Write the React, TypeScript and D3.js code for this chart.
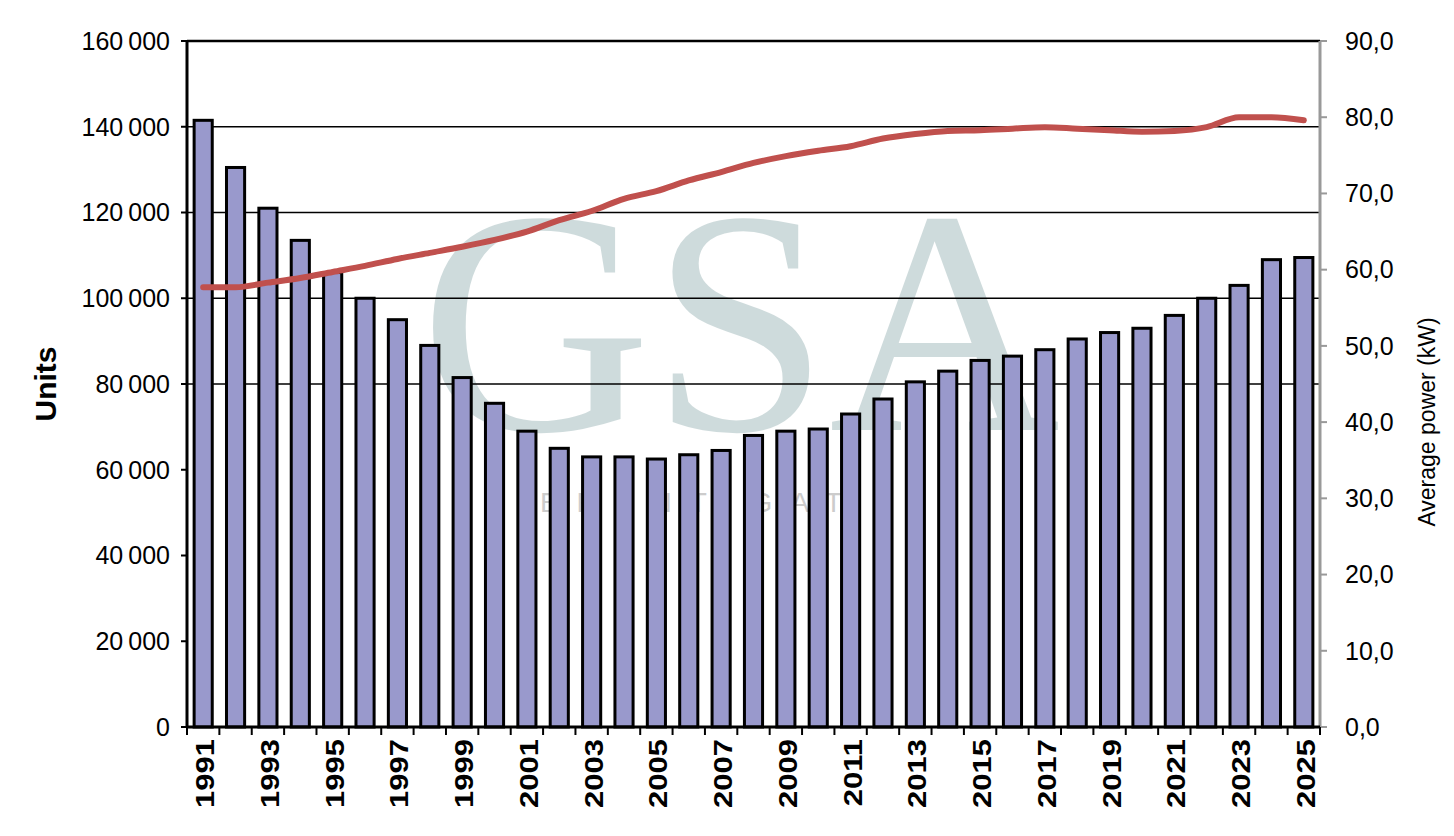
import * as d3 from 'd3'
import React from 'react'

const years = d3.range(1991, 2026).map(String)
const units = [141500, 130500, 121000, 113500, 106000, 100000, 95000, 89000, 81500, 75500,
  69000, 65000, 63000, 63000, 62500, 63500, 64500, 68000, 69000, 69500,
  73000, 76500, 80500, 83000, 85500, 86500, 88000, 90500, 92000, 93000,
  96000, 100000, 103000, 109000, 109500]
const power = [57.7, 57.7, 58.3, 58.9, 59.7, 60.5, 61.4, 62.2, 63.0, 63.9,
  65.0, 66.5, 67.7, 69.3, 70.3, 71.7, 72.8, 74.0, 74.9, 75.6,
  76.2, 77.2, 77.8, 78.2, 78.3, 78.5, 78.7, 78.5, 78.3, 78.1,
  78.2, 78.7, 80.0, 80.0, 79.6]
const leftTicks = d3.range(0, 160001, 20000)
const rightTicks = d3.range(0, 91, 10)
const gridTicks = [80000, 100000, 120000, 140000, 160000]

const W = 1454, H = 836
const L = 187, R = 1320, T = 41, B = 727

const App = () => {
  const x = d3.scaleBand().domain(years).range([L, R]).paddingInner(0.44).paddingOuter(0.22)
  const y = d3.scaleLinear().domain([0, 160000]).range([B, T])
  const y2 = d3.scaleLinear().domain([0, 90]).range([B, T])
  const fmt = (v: number) => d3.format(',')(v).replace(/,/g, '\u2009')
  const line = d3.line<number>()
    .x((_, i) => x(years[i])! + x.bandwidth() / 2)
    .y(d => y2(d))
    .curve(d3.curveMonotoneX)
  const step = x.step()
  const font = 'Liberation Sans, Arial, sans-serif'

  return (
    <svg width={W} height={H} style={{ position: 'absolute', left: 0, top: 0, fontFamily: font }}>
      {/* watermark */}
      <text x={740} y={430} textAnchor="middle" fontFamily="Liberation Serif, serif" fontSize={320}
        fill="#9fb8ba" opacity={0.5}>GSA</text>
      <text x={700} y={512} textAnchor="middle" fontSize={28} fill="#ccc" letterSpacing={18}>ERANTIGAT</text>
      {gridTicks.map(t => (
        <line key={t} x1={L} x2={R} y1={y(t)} y2={y(t)} stroke="#000" strokeWidth={t === 160000 ? 2.5 : 1.3} />
      ))}
      {units.map((v, i) => (
        <rect key={years[i]} x={x(years[i])} y={y(v)} width={x.bandwidth()} height={B - y(v)}
          fill="#9999cc" stroke="#000" strokeWidth={3} />
      ))}
      <path d={line(power)!} fill="none" stroke="#c0504d" strokeWidth={6} strokeLinecap="round" />
      {/* left axis */}
      <line x1={L} x2={L} y1={T} y2={B} stroke="#000" strokeWidth={3} />
      {leftTicks.map(t => (
        <g key={t}>
          <line x1={L - 6} x2={L} y1={y(t)} y2={y(t)} stroke="#000" strokeWidth={2} />
          <text x={L - 17} y={y(t)} dy="0.35em" textAnchor="end" fontSize={25}>{fmt(t)}</text>
        </g>
      ))}
      <text transform={`translate(56,${(T + B) / 2}) rotate(-90)`} textAnchor="middle" fontSize={30} fontWeight="bold">Units</text>
      {/* right axis */}
      <line x1={R} x2={R} y1={T} y2={B} stroke="#999" strokeWidth={3} />
      {rightTicks.map(t => (
        <g key={t}>
          <line x1={R} x2={R + 7} y1={y2(t)} y2={y2(t)} stroke="#999" strokeWidth={2} />
          <text x={R + 25} y={y2(t)} dy="0.35em" fontSize={25}>{d3.format('.1f')(t).replace('.', ',')}</text>
        </g>
      ))}
      <text transform={`translate(1435,${(T + B) / 2 + 38}) rotate(-90)`} textAnchor="middle" fontSize={23}>Average power (kW)</text>
      {/* bottom axis */}
      <line x1={L} x2={R} y1={B} y2={B} stroke="#000" strokeWidth={3} />
      {d3.range(years.length + 1).map(i => (
        <line key={i} x1={L + i * step} x2={L + i * step} y1={B} y2={B + 8} stroke="#000" strokeWidth={2} />
      ))}
      {years.map((yr, i) => i % 2 === 0 && (
        <text key={yr} transform={`translate(${x(yr)! + x.bandwidth() / 2 + 11},${B + 12}) rotate(-90) scale(1,0.85)`}
          textAnchor="end" fontSize={31} fontWeight="bold">{yr}</text>
      ))}
    </svg>
  )
}

export default App
